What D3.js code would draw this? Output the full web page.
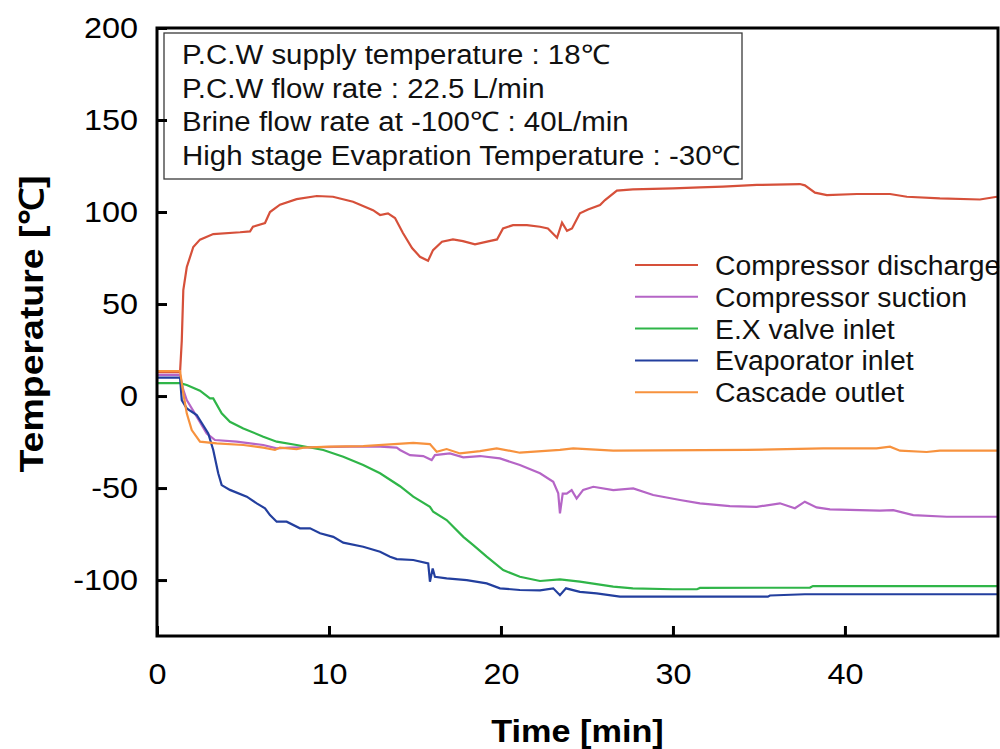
<!DOCTYPE html>
<html>
<head>
<meta charset="utf-8">
<script src="https://cdn.jsdelivr.net/npm/d3@7"></script>
<style>
  body { margin: 0; background: #fff; }
  text { font-family: "Liberation Sans", Arial, sans-serif; }
</style>
</head>
<body>
<script>
// Data: [time min, temperature C]
const discharge = [
  [0, 13], [1.34, 13], [1.44, 30], [1.53, 57.6], [1.73, 70], [2.11, 81], [2.5, 85],
  [3.27, 88], [4.83, 89], [5.41, 89.5], [5.58, 92], [6.28, 94], [6.57, 100], [7.15, 104],
  [8.12, 107], [9.29, 108.7], [10.23, 108.3], [11.4, 105.6], [12.56, 101], [12.97, 98.4],
  [13.43, 99.3], [13.84, 96.7], [14.3, 88.6], [14.83, 80.4], [15.29, 75.7], [15.76, 73.5],
  [16.05, 79.3], [16.57, 83.9], [17.21, 85.1], [17.79, 84.2], [18.49, 82.4], [19.19, 83.9],
  [19.77, 85.1], [20.12, 91.1], [20.7, 92.9], [21.51, 92.9], [22.27, 92], [22.73, 91.1],
  [23.26, 86], [23.55, 94.2], [23.84, 89.8], [24.13, 91.1], [24.59, 99.3], [25.06, 101.4],
  [25.76, 103.8], [26.05, 106.5], [26.74, 111.6], [27.67, 112.3], [30, 112.9], [31.57, 113.4],
  [32.91, 113.8], [34.88, 114.7], [37.38, 115.2], [37.67, 114.5], [38.26, 110.5], [38.95, 109.2],
  [40.7, 109.8], [42.62, 109.8], [43.6, 108.3], [45.52, 107.4], [47.85, 106.8], [48.84, 108.3]
];
const suction = [
  [0, 11.5], [1.34, 11.5], [1.53, 3.3], [1.73, -2.2], [2.31, -11.2], [2.89, -20.3], [3.37, -23.9],
  [4.63, -24.8], [6.18, -26.6], [6.96, -28.4], [7.73, -28], [11.22, -27.5], [12.97, -27.5],
  [13.94, -28], [14.13, -29.3], [14.71, -32.1], [15.48, -32.6], [15.97, -34.8], [16.16, -32.1],
  [17.03, -31.2], [17.81, -33.3], [18.78, -32.6], [19.94, -33.9], [21.1, -37.5], [22.27, -42],
  [23.04, -46.6], [23.33, -52.9], [23.43, -63.8], [23.59, -53], [23.82, -53], [24.11, -51.1],
  [24.4, -55.7], [24.78, -51], [25.37, -49.3], [26.53, -51.1], [27.69, -50.2], [28.85, -53.8],
  [30.41, -56.5], [31.57, -58.3], [33.31, -59.8], [34.87, -60.2], [36.22, -58.3], [37.09, -61],
  [37.67, -57.4], [38.35, -60.5], [39.13, -61.6], [42.03, -62.3], [42.81, -62], [43.97, -64.7],
  [45.92, -65.6], [48.84, -65.6]
];
const exValve = [
  [0, 7], [1.34, 7], [1.73, 6], [2.5, 2.9], [3.08, -1.3], [3.27, -1.3], [3.76, -9.4], [4.24, -14],
  [5.02, -17.6], [6.18, -22.1], [6.96, -24.8], [8.12, -26.6], [9.67, -29.3], [10.83, -33],
  [11.99, -37.5], [12.97, -42], [14.13, -49], [14.9, -54.7], [15.87, -60.2], [16.06, -62.9],
  [16.84, -67.4], [17.81, -76.5], [18.39, -81], [19.17, -87.3], [20.13, -94.6], [21.1, -98.2],
  [22.27, -100.5], [23.43, -99.6], [24.59, -100.9], [26.53, -103.6], [27.67, -104.5], [30, -105],
  [31.4, -105], [31.57, -104.3], [37.97, -104.1], [38.14, -103.3], [48.84, -103.3]
];
const evaporator = [
  [0, 10], [1.34, 10], [1.44, -2.2], [1.73, -6.7], [2.31, -10.3], [2.98, -20.3], [3.27, -29.3],
  [3.56, -42], [3.76, -48.4], [4.24, -51], [5.22, -54.7], [5.8, -58.3], [6.28, -61], [6.57, -64.7],
  [6.96, -68.3], [7.54, -68.3], [8.31, -71.9], [8.9, -71.9], [9.48, -74.6], [10.25, -76.5],
  [10.83, -79.7], [11.99, -81.9], [12.97, -84.6], [13.55, -87.3], [13.94, -88.6], [14.9, -89.1],
  [15.77, -91], [15.87, -100.9], [16.03, -93.7], [16.16, -98.2], [16.84, -99.1], [18.01, -100],
  [19.17, -101.8], [19.94, -104.5], [21.1, -105.4], [22.27, -105.6], [23.04, -104.5],
  [23.43, -108.2], [23.78, -104.5], [24.59, -106.4], [25.56, -107.2], [26.92, -109], [35.52, -109],
  [35.64, -108.4], [37.67, -107.7], [48.84, -107.7]
];
const cascade = [
  [0, 13.5], [1.34, 13.5], [1.53, 1.4], [1.73, -9.4], [2.02, -18.5], [2.5, -24.8], [3.47, -25.7],
  [5.02, -26.6], [6.18, -28], [6.86, -29.3], [7.15, -28], [8.12, -28.9], [8.51, -28], [10.06, -27.5],
  [11.99, -27.2], [14.9, -25.4], [15.87, -26.1], [16.26, -30.3], [16.84, -28.8], [17.62, -31.2],
  [18.78, -29.9], [19.75, -28.4], [21.1, -30.8], [23.43, -29.3], [24.2, -28.4], [26.53, -29.7],
  [34.28, -29.3], [38.74, -28.4], [41.84, -28.4], [42.62, -27.5], [43.2, -29.7], [44.75, -30.4],
  [45.52, -29.7], [48.84, -29.7]
];

const seriesNames = ["Compressor discharge", "Compressor suction", "E.X valve inlet", "Evaporator inlet", "Cascade outlet"];
const seriesData = [discharge, suction, exValve, evaporator, cascade];
const seriesColors = ["#d6503a", "#b565c6", "#2fb548", "#233f9e", "#f7923e"];

const xTicks = [0, 10, 20, 30, 40];
const yTicks = [-100, -50, 0, 50, 100, 150, 200];
const notes = [
  "P.C.W supply temperature : 18℃",
  "P.C.W flow rate : 22.5 L/min",
  "Brine flow rate at -100℃ : 40L/min",
  "High stage Evapration Temperature : -30℃"
];

const width = 1000, height = 749;
const margin = { top: 28, right: 2, bottom: 113, left: 157 };
const innerW = width - margin.left - margin.right;
const innerH = height - margin.top - margin.bottom;

// the source font runs a little wider than Arial
function widen(sel, f) {
  sel.each(function () {
    const len = this.getComputedTextLength();
    d3.select(this).attr("textLength", len * f).attr("lengthAdjust", "spacingAndGlyphs");
  });
}

const svg = d3.select("body").append("svg")
  .attr("width", width).attr("height", height);

const x = d3.scaleLinear().domain([0, 48.9]).range([0, innerW]);
const y = d3.scaleLinear().domain([-130.4, 200]).range([innerH, 0]);

const g = svg.append("g").attr("transform", `translate(${margin.left},${margin.top})`);

g.append("clipPath").attr("id", "clip")
  .append("rect").attr("width", innerW).attr("height", innerH);

// annotation box
const box = g.append("g");
box.append("rect")
  .attr("x", 7).attr("y", 5).attr("width", 578).attr("height", 146)
  .attr("fill", "none").attr("stroke", "#3a3a3a").attr("stroke-width", 1.3);
box.selectAll("text").data(notes).enter().append("text")
  .attr("x", 25)
  .attr("y", (d, i) => 36 + i * 33.7)
  .style("font-size", "27px")
  .attr("fill", "#111")
  .text(d => d)
  .call(widen, 1.09);

// lines
const line = d3.line().x(d => x(d[0])).y(d => y(d[1]));
g.append("g").attr("clip-path", "url(#clip)")
  .selectAll("path").data(seriesData).enter().append("path")
  .attr("d", line)
  .attr("fill", "none")
  .attr("stroke", (d, i) => seriesColors[i])
  .attr("stroke-width", 2.2);

// legend
const legend = g.append("g").attr("transform", "translate(478, 237)");
seriesNames.forEach((name, i) => {
  legend.append("line")
    .attr("x1", 0).attr("x2", 63)
    .attr("y1", i * 31.8).attr("y2", i * 31.8)
    .attr("stroke", seriesColors[i]).attr("stroke-width", 2);
  legend.append("text")
    .attr("x", 80).attr("y", i * 31.8 + 10)
    .style("font-size", "27px")
    .attr("fill", "#111")
    .text(name)
    .call(widen, 1.05);
});

// axes
const yAxis = d3.axisLeft(y).tickValues(yTicks).tickFormat(d => String(d))
  .tickSizeInner(-10).tickSizeOuter(0).tickPadding(19);
const xAxis = d3.axisBottom(x).tickValues(xTicks).tickFormat(d => String(d))
  .tickSizeInner(-10).tickSizeOuter(0).tickPadding(27);

const ya = g.append("g").call(yAxis);
const xa = g.append("g").attr("transform", `translate(0,${innerH})`).call(xAxis);
[ya, xa].forEach(a => {
  a.select(".domain").remove();
  a.selectAll(".tick line").attr("stroke", "#000").attr("stroke-width", 3);
  a.selectAll(".tick text").style("font-size", "30px").attr("fill", "#000")
    .style("font-family", "'Liberation Sans', Arial, sans-serif")
    .call(widen, 1.08);
});

// frame
g.append("rect")
  .attr("width", innerW).attr("height", innerH)
  .attr("fill", "none").attr("stroke", "#000").attr("stroke-width", 3);

// axis titles
svg.append("text")
  .attr("x", margin.left + innerW / 2).attr("y", 742)
  .attr("text-anchor", "middle")
  .style("font-size", "32px").style("font-weight", "bold")
  .text("Time [min]")
  .call(widen, 1.07);

svg.append("text")
  .attr("transform", `translate(43, 324) rotate(-90)`)
  .attr("text-anchor", "middle")
  .style("font-size", "33px").style("font-weight", "bold")
  .text("Temperature [℃]")
  .attr("textLength", 297).attr("lengthAdjust", "spacingAndGlyphs");
</script>
</body>
</html>
